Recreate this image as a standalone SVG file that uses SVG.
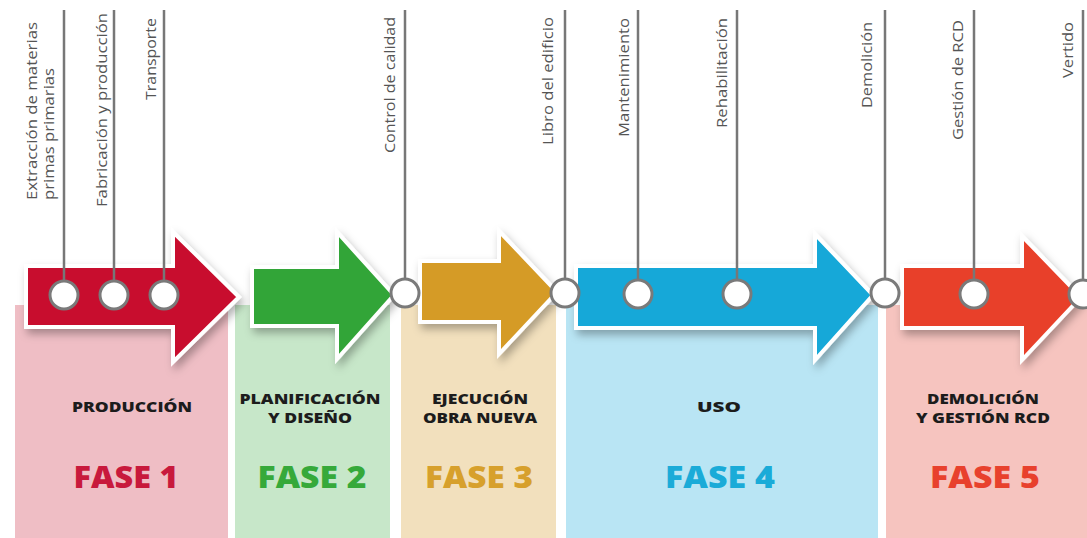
<svg xmlns="http://www.w3.org/2000/svg" width="1087" height="538" viewBox="0 0 1087 538">
<defs>
<style>
.lbl{font-family:"Open Sans","Liberation Sans",sans-serif;font-size:14px;fill:#555;}
.hd{font-family:"Open Sans","Liberation Sans",sans-serif;font-size:14.5px;font-weight:800;fill:#1c1c1c;text-anchor:middle;}
.fase{font-family:"Open Sans","Liberation Sans",sans-serif;font-size:30px;font-weight:800;text-anchor:middle;}
.arrow{stroke:#fff;stroke-width:4;stroke-linejoin:miter;filter:url(#sh);}
.line{stroke:#777;stroke-width:2.5;fill:none;}
.dot{fill:#fff;stroke:#7a7a7a;stroke-width:3;}
</style>
<filter id="sh" x="-10%" y="-20%" width="130%" height="150%">
<feDropShadow dx="3" dy="5" stdDeviation="4" flood-color="#000" flood-opacity="0.3"/>
</filter>
</defs>
<rect width="1087" height="538" fill="#fff"/>
<g id="panels">
<rect x="15" y="305" width="213" height="233" fill="#efbec5"/>
<rect x="235" y="305" width="155" height="233" fill="#c7e7c9"/>
<rect x="401" y="305" width="155" height="233" fill="#f2e0bd"/>
<rect x="566" y="305" width="312" height="233" fill="#b9e5f4"/>
<rect x="886" y="305" width="201" height="233" fill="#f6c4bf"/>
</g>
<g id="phase1">
<polygon class="arrow" fill="#c8102e" points="26,266 173,266 173,232 239,297 173,362 173,327 26,327"/>
<text class="hd" x="132" y="412" textLength="120" lengthAdjust="spacingAndGlyphs">PRODUCCIÓN</text>
<text class="fase" x="126" y="488" fill="#c8193c" textLength="105" lengthAdjust="spacingAndGlyphs">FASE 1</text>
</g>
<g id="phase2">
<polygon class="arrow" fill="#33a537" points="252,267 337,267 337,232 394,295 337,359 337,326 252,326"/>
<text class="hd" x="310" y="404" textLength="141" lengthAdjust="spacingAndGlyphs">PLANIFICACIÓN</text>
<text class="hd" x="310" y="423" textLength="84" lengthAdjust="spacingAndGlyphs">Y DISEÑO</text>
<text class="fase" x="312" y="488" fill="#36a93a" textLength="109" lengthAdjust="spacingAndGlyphs">FASE 2</text>
</g>
<g id="phase3">
<polygon class="arrow" fill="#d59b28" points="420,261 499,261 499,231 557,292 499,354 499,322 420,322"/>
<text class="hd" x="480" y="404" textLength="96" lengthAdjust="spacingAndGlyphs">EJECUCIÓN</text>
<text class="hd" x="480" y="423" textLength="114" lengthAdjust="spacingAndGlyphs">OBRA NUEVA</text>
<text class="fase" x="479" y="488" fill="#d7a02c" textLength="108" lengthAdjust="spacingAndGlyphs">FASE 3</text>
</g>
<g id="phase4">
<polygon class="arrow" fill="#14a8d8" points="576,266 815,266 815,234 873,295 815,360 815,328 576,328"/>
<text class="hd" x="719" y="412" textLength="44" lengthAdjust="spacingAndGlyphs">USO</text>
<text class="fase" x="720" y="488" fill="#1aabd8" textLength="110" lengthAdjust="spacingAndGlyphs">FASE 4</text>
</g>
<g id="phase5">
<polygon class="arrow" fill="#e8412b" points="902,266 1022,266 1022,236 1081,297 1022,360 1022,328 902,328"/>
<text class="hd" x="983" y="404" textLength="112" lengthAdjust="spacingAndGlyphs">DEMOLICIÓN</text>
<text class="hd" x="983" y="423" textLength="134" lengthAdjust="spacingAndGlyphs">Y GESTIÓN RCD</text>
<text class="fase" x="985" y="488" fill="#e8412d" textLength="110" lengthAdjust="spacingAndGlyphs">FASE 5</text>
</g>
<g id="connectors">
<line class="line" x1="64" y1="10" x2="64" y2="282"/>
<line class="line" x1="114" y1="10" x2="114" y2="282"/>
<line class="line" x1="164" y1="10" x2="164" y2="282"/>
<line class="line" x1="405" y1="10" x2="405" y2="280"/>
<line class="line" x1="565" y1="10" x2="565" y2="280"/>
<line class="line" x1="638" y1="10" x2="638" y2="280"/>
<line class="line" x1="737" y1="10" x2="737" y2="280"/>
<line class="line" x1="885" y1="10" x2="885" y2="280"/>
<line class="line" x1="974" y1="10" x2="974" y2="280"/>
<line class="line" x1="1083" y1="10" x2="1083" y2="280"/>
</g>
<g id="m1"><circle class="dot" cx="64" cy="295" r="14"/>
<text class="lbl" transform="translate(37,200) rotate(-90)" textLength="178" lengthAdjust="spacingAndGlyphs">Extracción de materias</text>
<text class="lbl" transform="translate(54,200) rotate(-90)" textLength="132" lengthAdjust="spacingAndGlyphs">primas primarias</text></g>
<g id="m2"><circle class="dot" cx="114" cy="295" r="14"/>
<text class="lbl" transform="translate(107,207) rotate(-90)" textLength="194" lengthAdjust="spacingAndGlyphs">Fabricación y producción</text></g>
<g id="m3"><circle class="dot" cx="164" cy="295" r="14"/>
<text class="lbl" transform="translate(156,100) rotate(-90)" textLength="82" lengthAdjust="spacingAndGlyphs">Transporte</text></g>
<g id="m4"><circle class="dot" cx="405" cy="293" r="14"/>
<text class="lbl" transform="translate(395,153) rotate(-90)" textLength="136" lengthAdjust="spacingAndGlyphs">Control de calidad</text></g>
<g id="m5"><circle class="dot" cx="565" cy="293" r="14"/>
<text class="lbl" transform="translate(553,145) rotate(-90)" textLength="128" lengthAdjust="spacingAndGlyphs">Libro del edificio</text></g>
<g id="m6"><circle class="dot" cx="638" cy="294" r="14"/>
<text class="lbl" transform="translate(629,137) rotate(-90)" textLength="119" lengthAdjust="spacingAndGlyphs">Mantenimiento</text></g>
<g id="m7"><circle class="dot" cx="737" cy="294" r="14"/>
<text class="lbl" transform="translate(727,128) rotate(-90)" textLength="110" lengthAdjust="spacingAndGlyphs">Rehabilitación</text></g>
<g id="m8"><circle class="dot" cx="885" cy="293" r="14"/>
<text class="lbl" transform="translate(872,108) rotate(-90)" textLength="86" lengthAdjust="spacingAndGlyphs">Demolición</text></g>
<g id="m9"><circle class="dot" cx="974" cy="294" r="14"/>
<text class="lbl" transform="translate(963,140) rotate(-90)" textLength="120" lengthAdjust="spacingAndGlyphs">Gestión de RCD</text></g>
<g id="m10"><circle class="dot" cx="1083" cy="294" r="14"/>
<text class="lbl" transform="translate(1073,78) rotate(-90)" textLength="56" lengthAdjust="spacingAndGlyphs">Vertido</text></g>
</svg>
